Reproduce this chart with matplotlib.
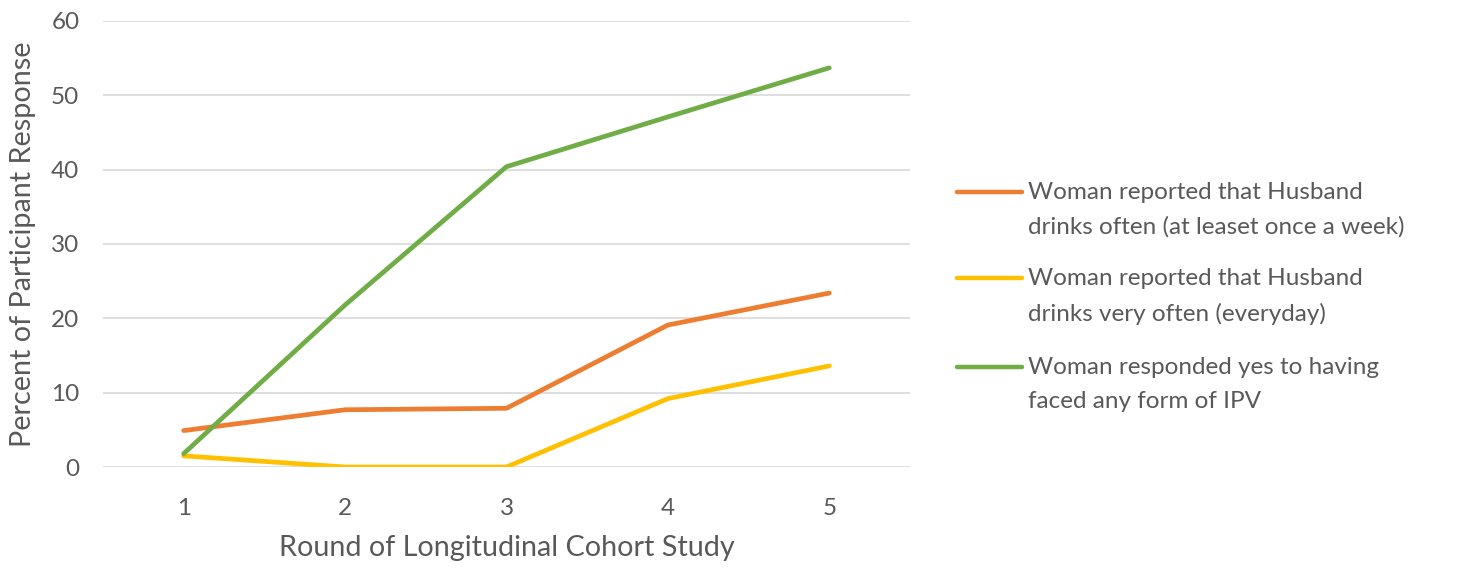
import matplotlib
matplotlib.use("Agg")
import matplotlib.pyplot as plt
from matplotlib.lines import Line2D

rounds = [1, 2, 3, 4, 5]
round_labels = ["1", "2", "3", "4", "5"]
drinks_often = [4.9, 7.7, 7.9, 19.1, 23.4]
drinks_very_often = [1.5, 0.0, 0.0, 9.2, 13.6]
faced_ipv = [1.8, 21.8, 40.4, 47.1, 53.7]
series_labels = [
    "Woman reported that Husband\ndrinks often (at leaset once a week)",
    "Woman reported that Husband\ndrinks very often (everyday)",
    "Woman responded yes to having\nfaced any form of IPV",
]
colors = ["#ED7D31", "#FFC000", "#70AD47"]
y_ticks = [0, 10, 20, 30, 40, 50, 60]

plt.rcParams['font.family'] = ['Lato', 'DejaVu Sans']
TXT = "#595959"

fig = plt.figure(figsize=(14.58, 5.71), dpi=100)
ax = fig.add_axes([103/1458, 104/571, (910-103)/1458, (467-21)/571])

for vals, c in zip([drinks_often, drinks_very_often, faced_ipv], colors):
    ax.plot(rounds, vals, color=c, lw=3.4, solid_capstyle='round', solid_joinstyle='round', zorder=3)

ax.set_xlim(0.5, 5.5)
ax.set_ylim(0, 60)
ax.set_yticks(y_ticks)
ax.set_xticks(rounds)
ax.set_xticklabels(round_labels)
ax.grid(axis='y', color='#D9D9D9', lw=1.2)
ax.set_axisbelow(True)
for s in ax.spines.values():
    s.set_visible(False)
ax.tick_params(length=0, labelsize=17.5, colors=TXT)
ax.tick_params(axis='y', pad=17)
ax.tick_params(axis='x', pad=22)
ax.set_xlabel("Round of Longitudinal Cohort Study", fontsize=20.7, color=TXT, labelpad=12)
ax.set_ylabel("Percent of Participant Response", fontsize=20.7, color=TXT, labelpad=11)

# legend
H = 571
entry_y = [192, 278, 367]
for lab, c, y in zip(series_labels, colors, entry_y):
    fy = 1 - y / H
    fig.add_artist(Line2D([957/1458, 1022/1458], [fy, fy], color=c, lw=3.2,
                          solid_capstyle='round', transform=fig.transFigure))
    fig.text(1028/1458, 1 - (y - 10)/H, lab, fontsize=17.5, color=TXT, va='top', ha='left',
             linespacing=1.75)

fig.savefig("out.png", dpi=100)
